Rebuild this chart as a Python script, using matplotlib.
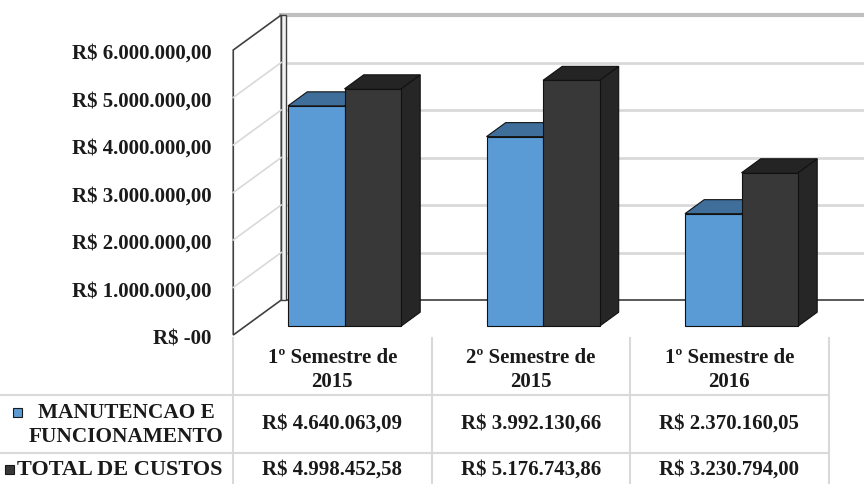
import matplotlib
matplotlib.use("Agg")
import matplotlib.pyplot as plt
from matplotlib.patches import Polygon, Rectangle

# dados ---------------------------------------------------------------
categorias = ["1º Semestre de\n2015", "2º Semestre de\n2015", "1º Semestre de\n2016"]
manutencao = [4640063.09, 3992130.66, 2370160.05]
total_custos = [4998452.58, 5176743.86, 3230794.00]
series = ["MANUTENCAO E\nFUNCIONAMENTO", "TOTAL DE CUSTOS"]
ticks = [0, 1e6, 2e6, 3e6, 4e6, 5e6, 6e6]

AZUL = "#5b9bd5"
AZUL_TOPO = "#3f6e9b"
PRETO = "#383838"
PRETO_TOPO = "#242424"
PRETO_LADO = "#262626"
GRADE = "#d9d9d9"
FONTE = "Liberation Serif"
TAM = 15


def brl(v):
    s = f"{v:,.2f}"
    s = s.replace(",", "#").replace(".", ",").replace("#", ".")
    return "R$ " + s


# figura 864x484, eixo ocupando tudo -----------------------------------
W, H = 864, 484
fig = plt.figure(figsize=(W / 100, H / 100), dpi=100)
ax = fig.add_axes([0, 0, 1, 1])
ax.set_axis_off()

# plano frontal: categoria i centrada em 332.5 + 198.5*i px, zero em 335 px (do topo)
PX_CAT = 198.5
PX_MI = 47.5
ax.set_xlim(-332.5 / PX_CAT, (W - 332.5) / PX_CAT)
ax.set_ylim(-(H - 335) / PX_MI * 1e6, 335 / PX_MI * 1e6)

# vetor de profundidade (px) convertido para unidades de dados
DX = 48 / PX_CAT
DY = 35 / PX_MI * 1e6
x_dir = (W - 332.5) / PX_CAT


def p(x, v, d):
    return (x + DX * d, v + DY * d)


# parede do fundo: grade e linha do topo
x_fundo = -0.5 + DX
for t in ticks[1:]:
    ax.plot([x_fundo, x_dir], [t + DY, t + DY], color=GRADE, lw=2, zorder=1,
            solid_capstyle="butt")
ax.plot([x_fundo, x_dir], [ticks[-1] + DY, ticks[-1] + DY], color="#bfbfbf", lw=3, zorder=1)
ax.plot([x_fundo, x_dir], [DY, DY], color="#3c3c3c", lw=1.2, zorder=1)

# espessura da borda esquerda da parede do fundo
esp = 5 / PX_CAT
ax.add_patch(Polygon([(x_fundo, DY), (x_fundo + esp, DY), (x_fundo + esp, ticks[-1] + DY),
                      (x_fundo, ticks[-1] + DY)], closed=True, facecolor="#f2f2f2",
                     edgecolor="#404040", lw=1, zorder=2))

# parede lateral esquerda
ax.add_patch(Polygon([p(-0.5, 0, 0), p(-0.5, ticks[-1], 0), p(-0.5, ticks[-1], 1),
                      p(-0.5, 0, 1)], closed=True, facecolor="white",
                     edgecolor="#404040", lw=1.2, zorder=2))
for t in ticks[1:-1]:
    a, b = p(-0.5, t, 0), p(-0.5, t, 1)
    ax.plot([a[0], b[0]], [a[1], b[1]], color=GRADE, lw=1.2, zorder=3)

# barras 3D
LARG = 56.5 / PX_CAT
D0, D1 = 0.25, 0.65


def barra(x0, x1, v, frente, topo, lado, z):
    ax.add_patch(Polygon([p(x1, 0, D0), p(x1, 0, D1), p(x1, v, D1), p(x1, v, D0)],
                         closed=True, facecolor=lado, edgecolor="#111111", lw=0.8, zorder=z))
    ax.add_patch(Polygon([p(x0, v, D0), p(x1, v, D0), p(x1, v, D1), p(x0, v, D1)],
                         closed=True, facecolor=topo, edgecolor="#111111", lw=0.8, zorder=z))
    x, y = p(x0, 0, D0)
    ax.add_patch(Rectangle((x, y), x1 - x0, v, facecolor=frente,
                           edgecolor="#111111", lw=0.8, zorder=z))


for i in range(len(categorias)):
    barra(i - LARG, i, manutencao[i], AZUL, AZUL_TOPO, AZUL_TOPO, 4)
    barra(i, i + LARG, total_custos[i], PRETO, PRETO_TOPO, PRETO_LADO, 5)

# rótulos do eixo de valores (um pouco abaixo da linha)
desce = 4 / PX_MI * 1e6
for t in ticks:
    txt = "R$ -00" if t == 0 else brl(t)
    ax.text(-0.5 - 22 / PX_CAT, t - desce, txt, ha="right", va="center", family=FONTE,
            fontweight="bold", fontsize=TAM, color="#1a1a1a")

# tabela de dados (coordenadas em pixels da figura)
tr = fig.transFigure


def fx(x):
    return x / W


def fy(y):
    return 1 - y / H


col_x = [233 + PX_CAT * k for k in range(len(categorias) + 1)]
for x in col_x:
    fig.add_artist(plt.Line2D([fx(x), fx(x)], [fy(338), fy(H)], transform=tr,
                              color=GRADE, lw=1.5))
for y in [395, 453]:
    fig.add_artist(plt.Line2D([0, fx(col_x[-1])], [fy(y), fy(y)], transform=tr,
                              color=GRADE, lw=1.5))

for i, cat in enumerate(categorias):
    xc = fx(col_x[i] + PX_CAT / 2)
    fig.text(xc, fy(370), cat, ha="center", va="center", family=FONTE,
             fontweight="bold", fontsize=TAM, linespacing=1.25, color="#1a1a1a")
    fig.text(xc, fy(424), brl(manutencao[i]), ha="center", va="center",
             family=FONTE, fontweight="bold", fontsize=TAM, color="#1a1a1a")
    fig.text(xc, fy(470), brl(total_custos[i]), ha="center", va="center",
             family=FONTE, fontweight="bold", fontsize=TAM, color="#1a1a1a")

# legenda na primeira coluna da tabela
fig.add_artist(Rectangle((fx(13), fy(417)), 9 / W, 9 / H, transform=tr,
                         facecolor=AZUL, edgecolor="#1a1a1a", lw=0.8))
fig.text(fx(126), fy(425), series[0], ha="center", va="center", family=FONTE,
         fontweight="bold", fontsize=15.3, linespacing=1.22, color="#1a1a1a")
fig.add_artist(Rectangle((fx(5), fy(474)), 9 / W, 9 / H, transform=tr,
                         facecolor=PRETO, edgecolor="#1a1a1a", lw=0.8))
fig.text(fx(17), fy(470), series[1], ha="left", va="center", family=FONTE,
         fontweight="bold", fontsize=16, color="#1a1a1a")

fig.savefig("out.png", dpi=100)
